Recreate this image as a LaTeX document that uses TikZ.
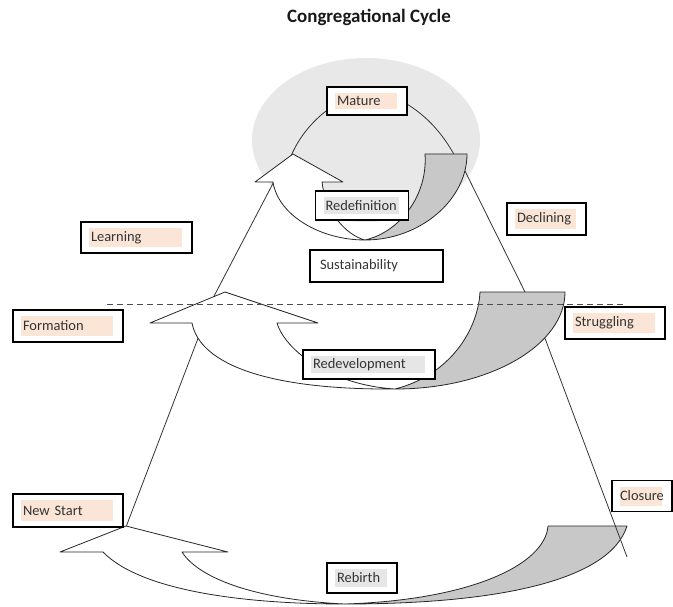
\documentclass[tikz,border=0pt]{standalone}
\usepackage{fontspec}
\setmainfont{Carlito}
\usepackage{tikz}
\definecolor{peach}{HTML}{FBE5D6}
\definecolor{mist}{HTML}{E6E6E6}
\definecolor{halo}{HTML}{E8E8E8}
\definecolor{shade}{HTML}{C8C8C8}
\definecolor{ink}{HTML}{333333}
\tikzset{%
  stage box/.style={
    draw,
    fill=white,
    line width=1.1pt,
    inner xsep=10bp,
    inner ysep=0pt,
    minimum height=31bp,
    align=left,
    text=ink,
    font=\fontsize{14.5}{17}\selectfont
  },
  tint/.style={
    path picture={\fill[#1] ([xshift=8bp,yshift=-6bp]path picture bounding box.north west) rectangle ([xshift=-10bp,yshift=6bp]path picture bounding box.south east);}
  },
  arrow front/.style={draw=black!85, fill=white, line width=0.8pt, line join=round},
  arrow back/.style={draw=black!85, fill=shade, line width=0.8pt, line join=round},
  cone/.style={draw=black!80, line width=0.8pt},
  level line/.style={draw=black!70, line width=0.9pt, dash pattern=on 6bp off 4bp},
}

\begin{document}
\begin{tikzpicture}[x=1bp, y=-1bp]
\useasboundingbox (0,0) rectangle (673,607);
\node[font=\fontsize{19}{22}\selectfont\bfseries, text=black!90] (title) at (369,17) {Congregational Cycle};
\fill[halo] (366,140) ellipse (114bp and 82bp);
    \draw[cone] (291,156) .. controls (300,135) and (315,118) .. (333,106);
    \draw[cone] (400,100) .. controls (422,112) and (442,130) .. (458,162);
    \draw[cone] (280,170) -- (212,300);
    \draw[cone] (462,165) -- (528,298);
    \draw[cone] (205,320) -- (126,527);
    \draw[arrow front] (103,552) -- (60,552) -- (126,526) -- (228,552) -- (182,552) .. controls (200,580) and (260,600) .. (345,604) .. controls (240,604) and (140,590) .. (103,552) -- cycle;
    \draw[arrow back] (548,526) -- (627,526) .. controls (610,580) and (500,604) .. (345,604) .. controls (470,600) and (545,565) .. (548,526) -- cycle;
    \draw[cone] (540,325) -- (627,557);
    \draw[arrow front] (192,323) -- (150,323) -- (225,292) -- (318,323) -- (277,323) .. controls (285,350) and (330,385) .. (395,389) .. controls (270,390) and (200,365) .. (192,323) -- cycle;
    \draw[arrow back] (480,292) -- (565,292) .. controls (565,345) and (490,389) .. (395,389) .. controls (450,375) and (478,330) .. (480,292) -- cycle;
    \draw[arrow front] (273,182) -- (255,182) -- (293,154) -- (343,182) -- (322,182) .. controls (325,210) and (345,235) .. (365,240) .. controls (320,240) and (278,215) .. (273,182) -- cycle;
    \draw[arrow back] (425,154) -- (467,154) .. controls (467,200) and (420,240) .. (365,240) .. controls (400,232) and (428,195) .. (425,154) -- cycle;
    \draw[level line] (107,304) -- (623,304);
    \node[stage box, tint=peach, text width=60bp, minimum height=28bp] (mature) at (367,101) {Mature};
    \node[stage box, tint=mist, text width=73bp, minimum height=29bp] (redefinition) at (362,205.5) {Redefinition};
    \node[stage box, text width=113bp, minimum height=32bp] (sustainability) at (376.5,266) {Sustainability};
    \node[stage box, tint=peach, text width=59bp, minimum height=32bp] (declining) at (546.5,219) {Declining};
    \node[stage box, tint=peach, text width=91bp] (learning) at (136.5,237.5) {Learning};
    \node[stage box, tint=peach, text width=90bp, minimum height=32bp] (formation) at (68,326) {Formation};
    \node[stage box, tint=peach, text width=80bp, minimum height=32bp] (struggling) at (615,323) {Struggling};
    \node[stage box, tint=mist, text width=112bp, minimum height=29bp] (redevelopment) at (369,364.5) {Redevelopment};
    \node[stage box, tint=peach, text width=90bp, minimum height=33bp] (newstart) at (68,510.5) {New Start};
    \node[stage box, tint=peach, text width=44bp, inner xsep=8bp] (closure) at (642,496) {Closure};
    \node[stage box, tint=mist, text width=50bp, minimum height=30bp] (rebirth) at (362,578) {Rebirth};
\end{tikzpicture}
\end{document}
